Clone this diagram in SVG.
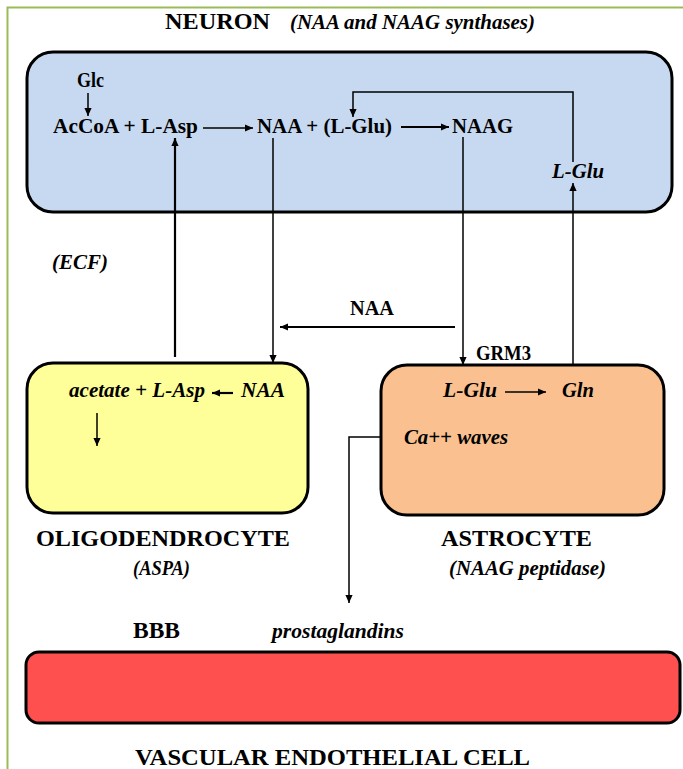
<svg xmlns="http://www.w3.org/2000/svg" width="683" height="769" viewBox="0 0 683 769" font-family="'Liberation Serif', 'DejaVu Serif', serif">
<defs>
<marker id="ah" viewBox="0 0 10 10" refX="10" refY="5" markerWidth="8" markerHeight="8" markerUnits="userSpaceOnUse" orient="auto"><path d="M0,0.5 L10,5 L0,9.5 z" fill="#000"/></marker>
<style>
.t{font-family:'Liberation Serif','DejaVu Serif',serif;font-weight:bold;fill:#000;font-size:21px}
.b{font-size:24px}
.i{font-style:italic;font-size:20px}
.box{stroke:#000;stroke-width:3}
.c{stroke:#000;stroke-width:1.5;fill:none}
.ct{stroke:#000;stroke-width:2.2;fill:none}
</style>
</defs>
<rect width="683" height="769" fill="#fff"/>
<path d="M7.5,769 V7.5 H683" fill="none" stroke="#9bbb59" stroke-width="2"/>
<g id="neuron">
<rect class="box" x="27" y="52" width="645" height="160" rx="26" fill="#c6d9f0"/>
<text class="t b" x="165" y="29" textLength="105" lengthAdjust="spacingAndGlyphs">NEURON</text>
<text class="t i" x="290" y="29" textLength="245" lengthAdjust="spacingAndGlyphs">(NAA and NAAG synthases)</text>
<text class="t" x="77" y="87" font-size="19" textLength="27" lengthAdjust="spacingAndGlyphs">Glc</text>
<text class="t" x="53" y="133" textLength="145" lengthAdjust="spacingAndGlyphs">AcCoA + L-Asp</text>
<text class="t" x="257" y="133" textLength="135" lengthAdjust="spacingAndGlyphs">NAA + (L-Glu)</text>
<text class="t" x="452" y="133" textLength="61" lengthAdjust="spacingAndGlyphs">NAAG</text>
<text class="t i" x="552" y="178" textLength="52" lengthAdjust="spacingAndGlyphs">L-Glu</text>
</g>
<g id="ecf"><text class="t i" x="52" y="269" textLength="56" lengthAdjust="spacingAndGlyphs">(ECF)</text></g>
<g id="oligodendrocyte">
<rect class="box" x="27" y="363" width="281" height="150" rx="26" fill="#ffff99"/>
<text class="t i" x="69" y="397" textLength="136" lengthAdjust="spacingAndGlyphs">acetate + L-Asp</text>
<text class="t i" x="241" y="397" textLength="44" lengthAdjust="spacingAndGlyphs">NAA</text>
<text class="t b" x="36" y="546" textLength="254" lengthAdjust="spacingAndGlyphs">OLIGODENDROCYTE</text>
<text class="t i" x="133" y="575" textLength="57" lengthAdjust="spacingAndGlyphs">(ASPA)</text>
</g>
<g id="astrocyte">
<rect class="box" x="381" y="365" width="283" height="150" rx="26" fill="#fac090"/>
<text class="t i" x="443" y="397" textLength="54" lengthAdjust="spacingAndGlyphs">L-Glu</text>
<text class="t i" x="562" y="397" textLength="32" lengthAdjust="spacingAndGlyphs">Gln</text>
<text class="t i" x="404" y="444" textLength="104" lengthAdjust="spacingAndGlyphs">Ca++ waves</text>
<text class="t b" x="441" y="546" textLength="151" lengthAdjust="spacingAndGlyphs">ASTROCYTE</text>
<text class="t i" x="449" y="575" textLength="157" lengthAdjust="spacingAndGlyphs">(NAAG peptidase)</text>
</g>
<g id="endothelial">
<rect class="box" x="26" y="652" width="654" height="71" rx="13" fill="#ff5050"/>
<text class="t b" x="133" y="638" textLength="47" lengthAdjust="spacingAndGlyphs">BBB</text>
<text class="t i" x="272" y="638" textLength="132" lengthAdjust="spacingAndGlyphs">prostaglandins</text>
<text class="t b" x="135" y="765" textLength="395" lengthAdjust="spacingAndGlyphs">VASCULAR ENDOTHELIAL CELL</text>
</g>
<g id="connectors">
<path class="c" d="M88,93 V116" marker-end="url(#ah)"/>
<path class="c" d="M203,128 H253" marker-end="url(#ah)"/>
<path class="ct" d="M401,127 H449" marker-end="url(#ah)"/>
<path class="c" d="M573,162 V92 H353 V117" marker-end="url(#ah)"/>
<path class="c" d="M573,364 V183" marker-end="url(#ah)"/>
<path class="ct" d="M175,357 V138" marker-end="url(#ah)"/>
<path class="c" d="M273,138 V363" marker-end="url(#ah)"/>
<path class="c" d="M463,137 V365" marker-end="url(#ah)"/>
<path class="ct" d="M455,327 H280" marker-end="url(#ah)"/>
<text class="t" x="350" y="315" font-size="20" textLength="44" lengthAdjust="spacingAndGlyphs">NAA</text>
<text class="t" x="476" y="360" font-size="19" textLength="55" lengthAdjust="spacingAndGlyphs">GRM3</text>
<path class="ct" d="M233,393 H212" marker-end="url(#ah)"/>
<path class="c" d="M505,392 H546" marker-end="url(#ah)"/>
<path class="c" d="M97,413 V446" marker-end="url(#ah)"/>
<path class="c" d="M381,437 H349 V603" marker-end="url(#ah)"/>
</g>
</svg>
